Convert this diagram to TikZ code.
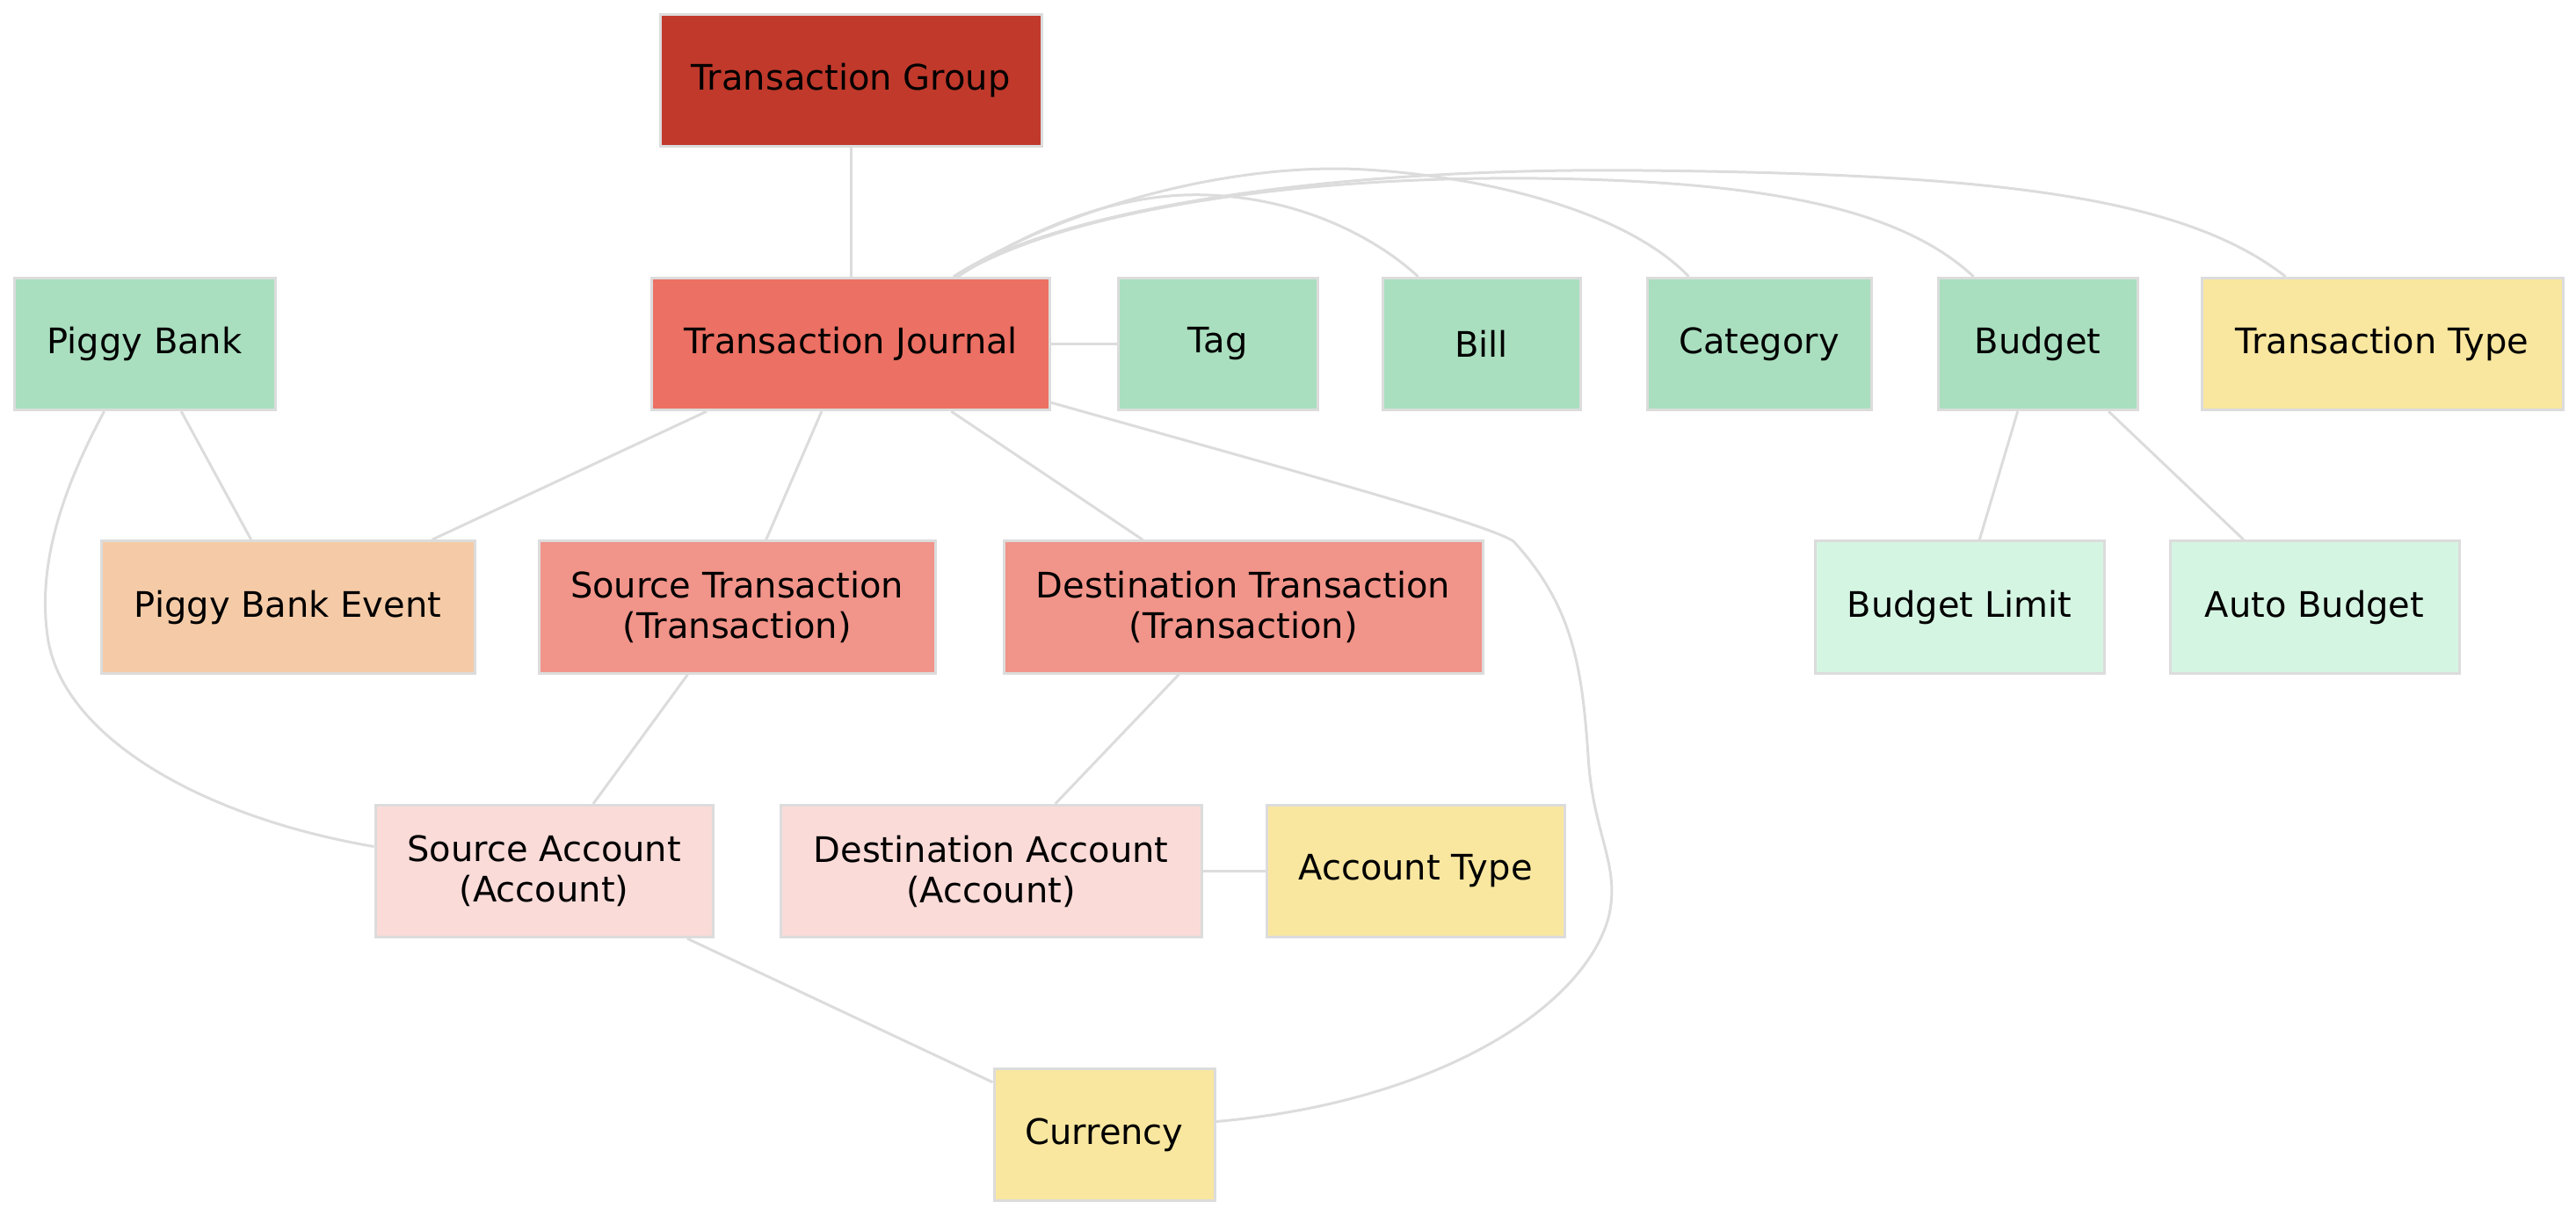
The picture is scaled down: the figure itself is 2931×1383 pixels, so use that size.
\documentclass[tikz,border=0pt]{standalone}
\usepackage{fontspec}
\setmainfont{DejaVu Sans}
\usetikzlibrary{calc}
\definecolor{cTG}{HTML}{C0392B}
\definecolor{cTJ}{HTML}{EC7063}
\definecolor{cTR}{HTML}{F1948A}
\definecolor{cAC}{HTML}{FADBD8}
\definecolor{cGR}{HTML}{A9DFBF}
\definecolor{cLG}{HTML}{D5F5E3}
\definecolor{cYE}{HTML}{F9E79F}
\definecolor{cPB}{HTML}{F5CBA7}
\definecolor{cLN}{HTML}{DCDCDC}
\begin{document}
\begin{tikzpicture}[x=0.25pt,y=-0.25pt,
  box/.style={rectangle,draw=cLN,line width=0.75pt,minimum height=37.6pt,inner sep=0pt,
    align=center,font=\fontsize{10pt}{11.5pt}\selectfont,text=black},
  edge/.style={draw=cLN,line width=0.75pt}]
\useasboundingbox (0,0) rectangle (2931,1383);
% row 0
\node[box,fill=cTG,minimum width=108.5pt] (tg) at (968,91.5) {Transaction Group};
% row 1
\node[box,fill=cGR,minimum width=74.25pt] (pb) at (164.5,391.5) {Piggy Bank};
\node[box,fill=cTJ,minimum width=113.25pt] (tj) at (968,391.5) {Transaction Journal};
\node[box,fill=cGR,minimum width=56.75pt] (tag) at (1385.5,391.5) {Tag};
\node[box,fill=cGR,minimum width=56.25pt] (bill) at (1685.5,391.5) {Bill};
\node[box,fill=cGR,minimum width=63.75pt] (cat) at (2001.5,391.5) {Category};
\node[box,fill=cGR,minimum width=56.75pt] (budget) at (2318.5,391.5) {Budget};
\node[box,fill=cYE,minimum width=102.75pt] (tt) at (2710.5,391.5) {Transaction Type};
% row 2
\node[box,fill=cPB,minimum width=106.25pt] (pbe) at (327.5,691) {Piggy Bank Event};
\node[box,fill=cTR,minimum width=112.75pt] (st) at (838.5,691) {Source Transaction\\(Transaction)};
\node[box,fill=cTR,minimum width=136.25pt] (dt) at (1414.5,691) {Destination Transaction\\(Transaction)};
\node[box,fill=cLG,minimum width=82.25pt] (bl) at (2229.5,691) {Budget Limit};
\node[box,fill=cLG,minimum width=82.25pt] (ab) at (2633.5,691) {Auto Budget};
% row 3
\node[box,fill=cAC,minimum width=96pt] (sa) at (619,991.5) {Source Account\\(Account)};
\node[box,fill=cAC,minimum width=119.75pt] (da) at (1127.5,991.5) {Destination Account\\(Account)};
\node[box,fill=cYE,minimum width=84.75pt] (acctype) at (1610.5,991.5) {Account Type};
% row 4
\node[box,fill=cYE,minimum width=62.75pt] (cur) at (1256.5,1291.5) {Currency};
% straight edges
\draw[edge] (tg) -- (tj);
\draw[edge] (tj) -- (tag);
\draw[edge] (tj) -- (pbe);
\draw[edge] (pb) -- (pbe);
\draw[edge] (tj) -- (st);
\draw[edge] (tj) -- (dt);
\draw[edge] (st) -- (sa);
\draw[edge] (dt) -- (da);
\draw[edge] (da) -- (acctype);
\draw[edge] (sa) -- (cur);
\draw[edge] (budget) -- (bl);
\draw[edge] (budget) -- (ab);
% curved edges
\draw[edge] ($(tj.north)+(122,0)$) .. controls (1180,255) and (1280,218) .. (1375,222)
  .. controls (1480,226) and (1565,270) .. ($(bill.north)+(-72,0)$);
\draw[edge] ($(tj.north)+(117,0)$) .. controls (1230,225) and (1420,185) .. (1553,193)
  .. controls (1690,201) and (1850,240) .. ($(cat.north)+(-80,0)$);
\draw[edge] ($(tj.north)+(120,0)$) .. controls (1200,245) and (1450,200) .. (1750,203)
  .. controls (2000,206) and (2160,235) .. ($(budget.north)+(-73,0)$);
\draw[edge] ($(tj.north)+(117,0)$) .. controls (1200,240) and (1500,190) .. (1870,194)
  .. controls (2250,198) and (2480,220) .. ($(tt.north)+(-110,0)$);
\draw[edge] ($(tj.south east)+(0,-10)$) .. controls (1450,530) and (1690,595) .. (1722,616)
  .. controls (1790,690) and (1800,760) .. (1807,860)
  .. controls (1812,950) and (1845,985) .. (1830,1045)
  .. controls (1800,1150) and (1630,1255) .. ($(cur.east)+(0,-15)$);
\draw[edge] ($(pb.south)+(-46,0)$) .. controls (75,550) and (40,640) .. (55,730)
  .. controls (75,840) and (230,930) .. ($(sa.west)+(0,-28)$);
\end{tikzpicture}
\end{document}
